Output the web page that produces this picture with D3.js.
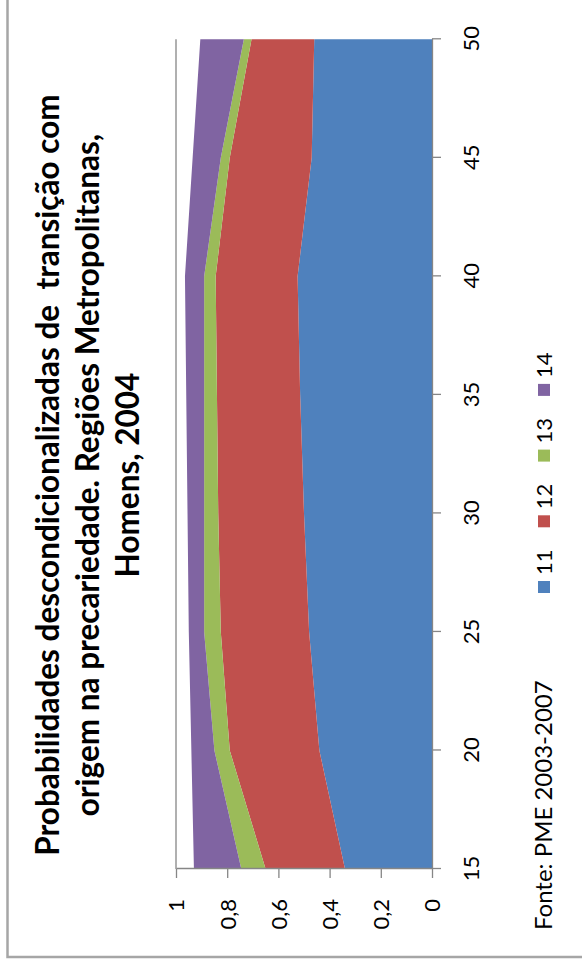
<!DOCTYPE html>
<html>
<head>
<meta charset="utf-8">
<script src="https://cdn.jsdelivr.net/npm/d3@7"></script>
<style>
  html, body { margin: 0; padding: 0; background: #fff; }
  svg { display: block; }
  text { font-family: Lato, "Open Sans", sans-serif; fill: #000; }
</style>
</head>
<body>
<svg id="chart" width="582" height="967"></svg>
<script>
// Idades (categorias do eixo horizontal)
const ages = [15, 20, 25, 30, 35, 40, 45, 50];
// Probabilidades por destino (séries empilhadas)
const s11 = [0.34, 0.44, 0.48, 0.50, 0.515, 0.525, 0.47, 0.46];
const s12 = [0.31, 0.35, 0.345, 0.335, 0.325, 0.32, 0.32, 0.245];
const s13 = [0.095, 0.06, 0.065, 0.055, 0.05, 0.045, 0.035, 0.03];
const s14 = [0.185, 0.09, 0.06, 0.065, 0.07, 0.075, 0.11, 0.17];
const seriesNames = ["11", "12", "13", "14"];
const seriesColors = ["#4F81BD", "#C0504D", "#9BBB59", "#8064A2"];
const valueTicks = [0, 0.2, 0.4, 0.6, 0.8, 1];
const valueTickLabels = ["0", "0,2", "0,4", "0,6", "0,8", "1"];
const titleLines = [
  "Probabilidades descondicionalizadas de  transição com",
  "origem na precariedade. Regiões Metropolitanas,",
  "Homens, 2004"
];
const sourceNote = "Fonte: PME 2003-2007";

const W = 967, H = 582;              // chart frame before rotation
const svg = d3.select("#chart");
// the whole chart is laid out normally, then turned a quarter turn
const g = svg.append("g").attr("transform", "translate(0,967) rotate(-90)");

// chart area border (only the top and left edges fall inside the page)
g.append("path")
  .attr("d", `M10,${H + 20} L10,7.5 L${W + 20},7.5`)
  .attr("fill", "none").attr("stroke", "#a6a6a6").attr("stroke-width", 2.5);

const plot = { left: 98, right: 927.7, top: 176, bottom: 432 };

const x = d3.scalePoint().domain(ages).range([plot.left, plot.right]);
const y = d3.scaleLinear().domain([0, 1]).range([plot.bottom, plot.top]);

const rows = ages.map((a, i) => ({ age: a, "11": s11[i], "12": s12[i], "13": s13[i], "14": s14[i] }));
const stacked = d3.stack().keys(seriesNames)(rows);

const area = d3.area()
  .x(d => x(d.data.age))
  .y0(d => y(d[0]))
  .y1(d => y(d[1]));

g.append("g").selectAll("path")
  .data(stacked)
  .join("path")
  .attr("d", area)
  .attr("fill", (d, i) => seriesColors[i]);

const axisColor = "#868686";

// line at the top of the value range
g.append("line")
  .attr("x1", plot.left).attr("x2", plot.right)
  .attr("y1", y(1)).attr("y2", y(1))
  .attr("stroke", axisColor).attr("stroke-width", 1.3);

// value axis
const yAxis = g.append("g")
  .attr("transform", `translate(${plot.left},0)`)
  .call(d3.axisLeft(y).tickValues(valueTicks)
    .tickFormat((d, i) => valueTickLabels[i])
    .tickSize(9).tickPadding(21).tickSizeOuter(0));

// age axis
const xAxis = g.append("g")
  .attr("transform", `translate(0,${plot.bottom})`)
  .call(d3.axisBottom(x).tickSize(9).tickPadding(22).tickSizeOuter(0));

[xAxis, yAxis].forEach(ax => {
  ax.select(".domain").attr("stroke", axisColor).attr("stroke-width", 1.3);
  ax.selectAll(".tick line").attr("stroke", axisColor).attr("stroke-width", 1.3);
  ax.selectAll(".tick text").attr("font-size", 22).attr("fill", "#000")
    .style("font-family", "Lato, 'Open Sans', sans-serif");
});
yAxis.selectAll(".tick text").attr("dy", "0.36em");

// title
const title = g.append("text")
  .attr("text-anchor", "middle")
  .attr("font-size", 31.5).attr("font-weight", "bold")
  .attr("xml:space", "preserve")
  .style("white-space", "pre");
titleLines.forEach((line, i) => {
  title.append("tspan").attr("x", 492).attr("y", 59 + i * 40).text(line);
});

// legend
const legendY = 544;
const legendStart = 380, legendStep = 65.7;
const leg = g.append("g");
seriesNames.forEach((name, i) => {
  const cx = legendStart + i * legendStep;
  leg.append("rect")
    .attr("x", cx - 6).attr("y", legendY - 6)
    .attr("width", 12).attr("height", 12)
    .attr("fill", seriesColors[i]);
  leg.append("text")
    .attr("x", cx + 12).attr("y", legendY + 8)
    .attr("font-size", 22).text(name);
});

// source note
g.append("text")
  .attr("x", 37).attr("y", legendY + 8)
  .attr("font-size", 24).text(sourceNote);
</script>
</body>
</html>
